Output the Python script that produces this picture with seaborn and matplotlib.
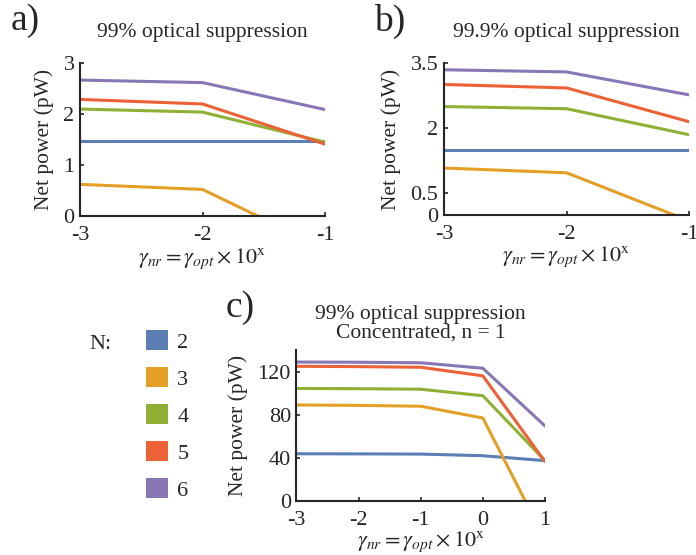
import matplotlib
matplotlib.use("Agg")
import matplotlib.pyplot as plt
from matplotlib.patches import Patch
import seaborn as sns
import pandas as pd

# values
n_values = [2, 3, 4, 5, 6]
colors = ['#5B7FB4', '#E49F27', '#8FB034', '#EC6236', '#8877B4']

x_ab = [-3, -2, -1]
power_a = {
    2: [1.48, 1.48, 1.48],
    3: [0.62, 0.52, -0.64],
    4: [2.10, 2.04, 1.45],
    5: [2.29, 2.20, 1.41],
    6: [2.67, 2.62, 2.09],
}
power_b = {
    2: [1.49, 1.49, 1.49],
    3: [1.08, 0.97, -0.14],
    4: [2.50, 2.45, 1.85],
    5: [3.01, 2.93, 2.15],
    6: [3.35, 3.30, 2.77],
}
x_c = [-3, -2, -1, 0, 1]
power_c = {
    2: [44.0, 43.9, 43.7, 42.2, 37.6],
    3: [89.6, 89.2, 88.4, 77.4, -36.0],
    4: [105.0, 104.8, 104.3, 98.2, 37.6],
    5: [125.7, 125.4, 124.8, 116.8, 36.7],
    6: [129.7, 129.5, 129.0, 123.9, 70.0],
}


def to_frame(x, series):
    rows = []
    for n, vals in series.items():
        for xi, v in zip(x, vals):
            rows.append({'x': xi, 'power': v, 'N': n})
    return pd.DataFrame(rows)


sns.set_style('ticks')
plt.rcParams['font.family'] = ['Liberation Serif', 'DejaVu Serif']
plt.rcParams['mathtext.fontset'] = 'stix'
plt.rcParams['axes.unicode_minus'] = False
plt.rcParams['xtick.direction'] = 'in'
plt.rcParams['ytick.direction'] = 'in'

palette = dict(zip(n_values, colors))
xlabel = r'$\gamma_{nr} = \gamma_{opt} \times 10^{\mathrm{x}}$'

fig = plt.figure(figsize=(6.96, 5.55), dpi=100)
ax_a = fig.add_axes([0.115, 0.611, 0.352, 0.275])
ax_b = fig.add_axes([0.638, 0.613, 0.352, 0.273])
ax_c = fig.add_axes([0.426, 0.0975, 0.357, 0.272])

panels = [
    (ax_a, to_frame(x_ab, power_a), '99% optical suppression', (0, 3), [0, 1, 2, 3], x_ab, 19, 1),
    (ax_b, to_frame(x_ab, power_b), '99.9% optical suppression', (0, 3.5), [0, 0.5, 2, 3.5], x_ab, 19, 1),
    (ax_c, to_frame(x_c, power_c), '99% optical suppression\nConcentrated, n = 1', (0, 141), [0, 40, 80, 120], x_c, 9, 0),
]

for ax, df, title, ylim, yticks, xticks, tpad, xpad in panels:
    sns.lineplot(data=df, x='x', y='power', hue='N', palette=palette,
                 linewidth=2.2, legend=False, ax=ax)
    ax.set_xlim(xticks[0], xticks[-1])
    ax.set_ylim(*ylim)
    ax.set_xticks(xticks)
    ax.set_xticklabels([str(t) for t in xticks])
    ax.set_yticks(yticks)
    ax.set_yticklabels([f'{t:g}' for t in yticks])
    ax.tick_params(labelsize=16, length=3, width=1.2)
    ax.tick_params(axis='x', pad=7)
    ax.tick_params(axis='y', pad=4)
    ax.set_title(title, fontsize=15.5, pad=tpad, linespacing=0.95)
    ax.set_xlabel(xlabel, fontsize=16, labelpad=xpad)
    ax.set_ylabel('Net power (pW)', fontsize=15.5, labelpad=7)
    for side in ['left', 'bottom']:
        ax.spines[side].set_linewidth(1.5)
    sns.despine(ax=ax)

fig.text(0.015, 0.962, 'a)', fontsize=27, va='center')
fig.text(0.537, 0.962, 'b)', fontsize=27, va='center')
fig.text(0.324, 0.445, 'c)', fontsize=27, va='center')

handles = [Patch(facecolor=c, edgecolor='none') for c in colors]
fig.text(0.128, 0.38, 'N:', fontsize=16, va='center')
fig.legend(handles, [str(n) for n in n_values], loc='upper left',
           bbox_to_anchor=(0.21, 0.405), frameon=False, fontsize=16,
           handlelength=1.0, handleheight=1.0, labelspacing=0.65,
           handletextpad=0.4, borderpad=0, borderaxespad=0)

fig.savefig('out.png', dpi=100)
